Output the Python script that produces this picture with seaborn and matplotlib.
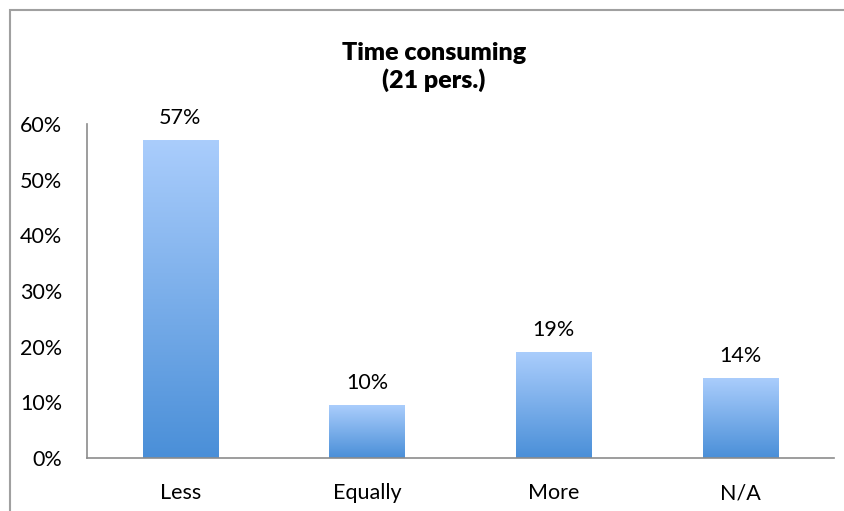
import numpy as np
import pandas as pd
import matplotlib
matplotlib.use("Agg")
import matplotlib.pyplot as plt
import seaborn as sns
from matplotlib.patches import Rectangle
from matplotlib.colors import LinearSegmentedColormap

# data
categories = ["Less", "Equally", "More", "N/A"]
shares = [57.1, 9.5, 19.0, 14.3]
labels = ["57%", "10%", "19%", "14%"]
yticks = [0, 10, 20, 30, 40, 50, 60]

sns.set_style("white")
plt.rcParams['font.family'] = ['Lato', 'DejaVu Sans']
plt.rcParams['text.color'] = 'black'
plt.rcParams['xtick.labelcolor'] = 'black'
plt.rcParams['ytick.labelcolor'] = 'black'

df = pd.DataFrame({"answer": categories, "share": shares})

fig = plt.figure(figsize=(8.45, 5.11), dpi=100)
ax = fig.add_axes([87/845, 1 - 458/511, (834 - 87)/845, (458 - 124)/511])

sns.barplot(data=df, x="answer", y="share", ax=ax, width=0.405,
            color="#7fb0ea", saturation=1)

# gradient fill, light at top and darker blue at bottom
cmap = LinearSegmentedColormap.from_list("grad", ["#4a8fd8", "#aacdfc"])
grad = np.linspace(0, 1, 256).reshape(-1, 1)
for p in ax.patches:
    x0, y0 = p.get_x(), p.get_y()
    w, h = p.get_width(), p.get_height()
    p.set_facecolor("none")
    p.set_edgecolor("none")
    im = ax.imshow(grad, extent=[x0, x0 + w, y0, y0 + h], origin="lower",
                   cmap=cmap, aspect="auto", zorder=2)
    im.set_clip_path(p)

ax.set_xlim(-0.5, len(categories) - 0.5)
ax.set_ylim(0, 60)
ax.set_yticks(yticks)
ax.set_yticklabels([f"{t}%" for t in yticks])
ax.set_xticks(range(len(categories)))
ax.set_xticklabels(categories)
ax.set_xticks(np.arange(-0.5, len(categories), 1), minor=True)
ax.tick_params(axis="x", which="major", length=0, pad=18, labelsize=15.5, labelcolor="black")
ax.tick_params(axis="x", which="minor", length=6, color="#8c8c8c", width=1.2, direction="out")
ax.tick_params(axis="y", length=6, color="#8c8c8c", width=1.2, direction="out", pad=12,
               labelsize=15.5, labelcolor="black")
ax.set_xlabel("")
ax.set_ylabel("")

for s in ["top", "right"]:
    ax.spines[s].set_visible(False)
for s in ["left", "bottom"]:
    ax.spines[s].set_color("#8c8c8c")
    ax.spines[s].set_linewidth(1.2)

for i, lab in enumerate(labels):
    ax.annotate(lab, (i, shares[i]), xytext=(0, 9), textcoords="offset points",
                ha="center", va="bottom", fontsize=15.5, color="black")

fig.text(434/845, 1 - 60/511, "Time consuming", ha="center", va="baseline",
         fontsize=18, fontweight="heavy", color="black")
fig.text(434/845, 1 - 88/511, "(21 pers.)", ha="center", va="baseline",
         fontsize=18, fontweight="heavy", color="black")

# chart area border
fig.patches.append(Rectangle((10/845, -0.1), 1.0, 1 - 10/511 + 0.1,
                             transform=fig.transFigure, fill=False,
                             edgecolor="#a0a0a0", linewidth=1.5))

fig.savefig("out.png", dpi=100)
